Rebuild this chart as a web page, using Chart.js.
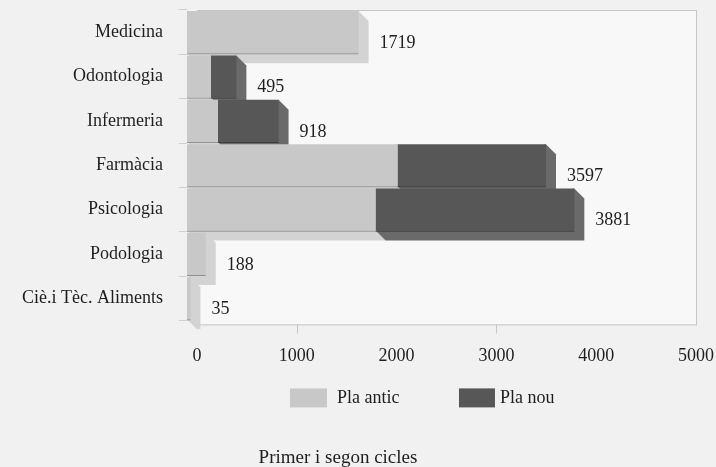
<!DOCTYPE html>
<html lang="ca">
  <head>
    <meta charset="UTF-8">
    <title>Primer i segon cicles</title>
    <style>
      body { margin: 0; background: #f1f1f1; }
      #wrap { width: 716px; height: 467px; position: relative; }
    </style>
  </head>
  <body>
    <div id="wrap"><canvas id="chart" width="716" height="467"></canvas></div>
    <script src="https://cdn.jsdelivr.net/npm/chart.js@4.4.1/dist/chart.umd.min.js"></script>
    <script>

      var categories = ['Medicina', 'Odontologia', 'Infermeria', 'Farmàcia', 'Psicologia', 'Podologia', 'Ciè.i Tèc. Aliments'];
      var plaAntic = [1719, 240, 310, 2110, 1890, 188, 35];
      var plaNou = [0, 255, 608, 1487, 1991, 0, 0];
      var totals = [1719, 495, 918, 3597, 3881, 188, 35];
      var xTicks = [0, 1000, 2000, 3000, 4000, 5000];
      var chartTitle = 'Primer i segon cicles';

      var serif = '"Liberation Serif", "DejaVu Serif", serif';
      var depth = 10;
      var fronts = ['#c8c8c8', '#575757'];
      var sides = ['#d3d3d3', '#6a6a6a'];

      // fake 3d: the library draws the front face, the depth goes down-right behind it
      var depthPlugin = {
        id: 'depth',
        beforeDatasetsDraw: function(chart) {
          var ctx = chart.ctx;
          ctx.save();
          categories.forEach(function(c, i) {
            chart.data.datasets.forEach(function(ds, di) {
              if (!ds.data[i]) return;
              var bar = chart.getDatasetMeta(di).data[i];
              var x0 = bar.base, x1 = bar.x;
              var y0 = bar.y - bar.height / 2, y1 = bar.y + bar.height / 2;
              ctx.fillStyle = sides[di];
              ctx.beginPath();
              ctx.moveTo(x1, y0);
              ctx.lineTo(x1 + depth, y0 + depth);
              ctx.lineTo(x1 + depth, y1 + depth);
              ctx.lineTo(x0 + depth, y1 + depth);
              ctx.lineTo(x0, y1);
              ctx.closePath();
              ctx.fill();
              ctx.strokeStyle = di ? '#3a3a3a' : '#8c8c8c';
              ctx.lineWidth = 1;
              ctx.beginPath();
              ctx.moveTo(x0, y1 + 0.5);
              ctx.lineTo(x1, y1 + 0.5);
              ctx.stroke();
            });
          });
          ctx.restore();
        },
        afterDatasetsDraw: function(chart) {
          var ctx = chart.ctx;
          ctx.save();
          ctx.font = '18px ' + serif;
          ctx.fillStyle = '#1e1e1e';
          ctx.textBaseline = 'middle';
          var last = chart.getDatasetMeta(1).data;
          totals.forEach(function(t, i) {
            var bar = last[i];
            var x = chart.scales.x.getPixelForValue(t);
            ctx.fillText(String(t), x + depth + 11, bar.y + 11);
          });
          ctx.restore();
        }
      };

      // legend and title under the plot
      var legendPlugin = {
        id: 'legendBox',
        afterDraw: function(chart) {
          var ctx = chart.ctx;
          var a = chart.chartArea;
          var y = a.bottom + 78;
          ctx.save();
          ctx.font = '18px ' + serif;
          ctx.textBaseline = 'middle';
          ctx.fillStyle = fronts[0];
          ctx.fillRect(a.left + 103, y - 10, 37, 19);
          ctx.fillStyle = fronts[1];
          ctx.fillRect(a.left + 272, y - 10, 36, 19);
          ctx.fillStyle = '#1e1e1e';
          ctx.fillText(chart.data.datasets[0].label, a.left + 150, y);
          ctx.fillText(chart.data.datasets[1].label, a.left + 313, y);
          ctx.textAlign = 'center';
          ctx.font = '19px ' + serif;
          ctx.fillText(chartTitle, a.left + 151, a.bottom + 138);
          ctx.restore();
        }
      };

      // back wall of the plot, sitting one depth step behind the bars
      var framePlugin = {
        id: 'frame',
        beforeDraw: function(chart) {
          var ctx = chart.ctx;
          var a = chart.chartArea;
          var sx = chart.scales.x;
          var x0 = sx.getPixelForValue(0) + depth;
          var x1 = sx.getPixelForValue(5000) + depth;
          var yb = a.bottom + 4;
          ctx.save();
          ctx.fillStyle = '#f8f8f8';
          ctx.fillRect(x0, a.top, x1 - x0, yb - a.top);
          ctx.strokeStyle = '#c6c6c6';
          ctx.lineWidth = 1;
          ctx.strokeRect(x0 + 0.5, a.top + 0.5, x1 - x0, yb - a.top);
          [1000, 3000].forEach(function(v) {
            var px = Math.round(sx.getPixelForValue(v) + depth) + 0.5;
            ctx.beginPath();
            ctx.moveTo(px, yb);
            ctx.lineTo(px, yb + 9);
            ctx.stroke();
          });
          ctx.restore();
        }
      };

      new Chart(document.getElementById('chart'), {
        type: 'bar',
        data: {
          labels: categories,
          datasets: [{
            label: 'Pla antic',
            data: plaAntic,
            backgroundColor: fronts[0],
            stack: 's'
          }, {
            label: 'Pla nou',
            data: plaNou,
            backgroundColor: fronts[1],
            stack: 's'
          }]
        },
        plugins: [framePlugin, depthPlugin, legendPlugin],
        options: {
          indexAxis: 'y',
          responsive: false,
          animation: false,
          devicePixelRatio: 1,
          layout: { padding: { top: 10, right: 30, bottom: 83, left: 6 } },
          barPercentage: 0.95,
          categoryPercentage: 1,
          scales: {
            x: {
              stacked: true,
              min: 0,
              max: 5000,
              afterBuildTicks: function(s) { s.ticks = xTicks.map(function(v) { return { value: v }; }); },
              afterFit: function(s) { s.paddingRight = 0; },
              grid: { display: false },
              border: { display: false },
              ticks: {
                color: '#1e1e1e',
                font: { family: serif, size: 18 },
                padding: 17,
                labelOffset: depth,
                maxRotation: 0,
                autoSkip: false,
                callback: function(v) { return String(v); }
              }
            },
            y: {
              stacked: true,
              afterFit: function(s) { s.paddingTop = 0; s.paddingBottom = 0; },
              grid: { drawOnChartArea: false, drawTicks: true, tickLength: 8, color: '#cfcfcf' },
              border: { display: false },
              ticks: {
                color: '#1e1e1e',
                font: { family: serif, size: 18 },
                padding: 16,
                autoSkip: false
              }
            }
          },
          plugins: {
            legend: { display: false },
            tooltip: { enabled: false }
          }
        }
      });
    </script>
  </body>
</html>
